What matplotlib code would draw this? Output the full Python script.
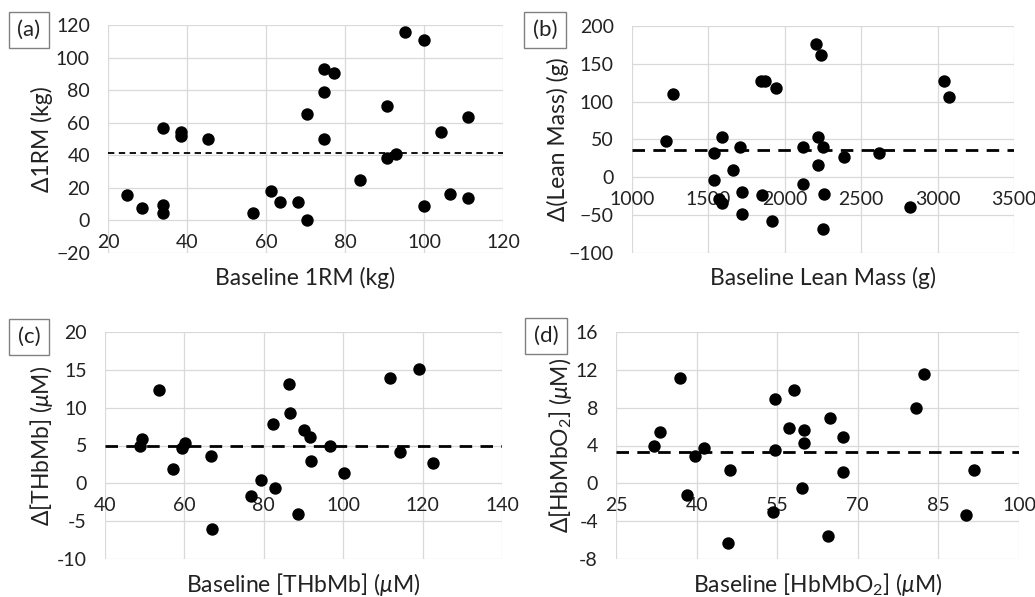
import numpy as np
import matplotlib
matplotlib.use("Agg")
from matplotlib import pyplot as plt

plt.rcParams['font.family'] = ['Lato', 'DejaVu Sans']
plt.rcParams['mathtext.fontset'] = 'custom'
plt.rcParams['mathtext.rm'] = 'Lato'
plt.rcParams['mathtext.it'] = 'Lato:italic'

# (a) 1RM
a_x = [24.9, 28.7, 33.9, 33.9, 33.9, 38.6, 38.6, 45.4, 56.8, 61.3, 63.5, 68.1, 70.4, 70.4, 74.8,
       74.8, 74.8, 77.1, 83.8, 90.6, 90.6, 92.9, 95.2, 99.9, 99.9, 104.3, 106.6, 111.1, 111.1]
a_y = [15.7, 7.6, 56.6, 9.2, 4.5, 54.6, 51.9, 49.9, 4.5, 18.0, 11.2, 11.2, 65.4, 0.0, 92.8,
       79.1, 49.9, 90.4, 24.9, 70.3, 38.2, 40.7, 115.5, 110.8, 9.0, 54.4, 16.0, 63.4, 13.5]
a_mean = 41.3

# (b) lean mass
b_x = [1222, 1268, 1538, 1538, 1571, 1588, 1588, 1663, 1704, 1719, 1721, 1846, 1872, 1852, 1942,
       1915, 2116, 2122, 2203, 2234, 2220, 2247, 2216, 2259, 2247, 2388, 2619, 2820, 3042, 3077]
b_y = [48.5, 110.1, 32.2, -3.5, -29.1, -33.5, 53.3, 9.3, 40.1, -19.8, -48.9, 127.3, 127.3, -22.9, 118.5,
       -57.7, -8.4, 40.1, 175.8, 161.7, 53.3, 40.1, 16.7, -21.6, -67.8, 26.4, 32.6, -39.6, 127.8, 106.6]
b_mean = 36.6

# (c) THbMb
c_x = [48.8, 49.2, 53.6, 57.2, 59.5, 60.1, 66.7, 67.0, 76.7, 79.3, 82.2, 82.8, 86.4, 86.7, 88.7,
       90.1, 91.6, 91.8, 96.8, 100.1, 111.7, 114.2, 119.1, 122.7]
c_y = [5.0, 5.9, 12.4, 1.9, 4.7, 5.3, 3.6, -6.0, -1.7, 0.5, 7.8, -0.6, 13.1, 9.3, -4.0,
       7.0, 6.1, 3.0, 5.0, 1.3, 13.9, 4.1, 15.1, 2.7]
c_mean = 4.9

# (d) HbMbO2
d_x = [32.1, 33.2, 37.0, 38.2, 39.7, 41.3, 46.2, 45.9, 54.5, 54.5, 54.3, 57.2, 58.1, 60.0, 60.0,
       59.6, 64.8, 64.4, 67.3, 67.3, 80.9, 82.3, 90.1, 91.7]
d_y = [4.0, 5.4, 11.1, -1.2, 2.9, 3.7, 1.4, -6.3, 8.9, 3.5, -3.0, 5.8, 9.9, 5.6, 4.3,
       -0.5, 6.9, -5.6, 4.9, 1.2, 8.0, 11.6, -3.3, 1.4]
d_mean = 3.35

panels = [
    dict(tag='(a)', x=a_x, y=a_y, m=a_mean,
         xt=[20, 40, 60, 80, 100, 120], yt=[-20, 0, 20, 40, 60, 80, 100, 120],
         ytl=['\u221220', '0', '20', '40', '60', '80', '100', '120'],
         xl='Baseline 1RM (kg)', yl='\u03941RM (kg)',
         pos=[108, 25, 503, 253], tagpos=(29, 30), ylx=42, dash=(0, (3.5, 2.5)), lw=1.3),
    dict(tag='(b)', x=b_x, y=b_y, m=b_mean,
         xt=[1000, 1500, 2000, 2500, 3000, 3500], yt=[-100, -50, 0, 50, 100, 150, 200],
         ytl=['\u2212100', '\u221250', '0', '50', '100', '150', '200'],
         xl='Baseline Lean Mass (g)', yl='\u0394(Lean Mass) (g)',
         pos=[632, 26, 1014, 253], tagpos=(545, 30), ylx=558, dash=(0, (4.5, 3)), lw=2.0),
    dict(tag='(c)', x=c_x, y=c_y, m=c_mean,
         xt=[40, 60, 80, 100, 120, 140], yt=[-10, -5, 0, 5, 10, 15, 20],
         ytl=['-10', '-5', '0', '5', '10', '15', '20'],
         xl='Baseline [THbMb] ($\\mu$M)', yl='\u0394[THbMb] ($\\mu$M)',
         pos=[105, 332, 502, 559], tagpos=(29, 337), ylx=42, dash=(0, (4.5, 3)), lw=2.0),
    dict(tag='(d)', x=d_x, y=d_y, m=d_mean,
         xt=[25, 40, 55, 70, 85, 100], yt=[-8, -4, 0, 4, 8, 12, 16],
         ytl=['-8', '-4', '0', '4', '8', '12', '16'],
         xl='Baseline [HbMbO$_2$] ($\\mu$M)', yl='\u0394[HbMbO$_2$] ($\\mu$M)',
         pos=[616, 332, 1019, 559], tagpos=(546, 336), ylx=560, dash=(0, (4.5, 3)), lw=2.0),
]

W, H = 1035, 597
fig = plt.figure(figsize=(W / 100, H / 100), dpi=100)
txt = '#222222'

for p in panels:
    l, t, r, b = p['pos']
    ax = fig.add_axes([l / W, 1 - b / H, (r - l) / W, (b - t) / H])
    ax.scatter(p['x'], p['y'], s=80, color='black', zorder=3, linewidths=0)
    ax.axhline(p['m'], color='black', lw=p['lw'], linestyle=p['dash'], zorder=2)
    ax.set_xlim(p['xt'][0], p['xt'][-1])
    ax.set_ylim(p['yt'][0], p['yt'][-1])
    ax.set_xticks(p['xt'])
    ax.set_yticks(p['yt'])
    ax.set_yticklabels(p['ytl'])
    for s in ax.spines.values():
        s.set_visible(False)
    ax.spines['bottom'].set_position(('data', 0))
    ax.grid(True, color='#d9d9d9', lw=0.9)
    ax.set_axisbelow(True)
    ax.tick_params(length=0, labelsize=14, colors=txt)
    ax.tick_params(axis='y', pad=13)
    ax.tick_params(axis='x', pad=10)
    ax.set_xlabel(p['xl'], fontsize=16.5, color=txt)
    ax.xaxis.set_label_coords(0.5, -25 / (b - t))
    ax.xaxis.label.set_va('center')
    ax.set_ylabel(p['yl'], fontsize=16.5, color=txt)
    ax.yaxis.set_label_coords((p['ylx'] - l) / (r - l), 0.5)
    ax.yaxis.label.set_va('center')
    fig.text(p['tagpos'][0] / W, 1 - p['tagpos'][1] / H, p['tag'], fontsize=16, color=txt,
             ha='center', va='center',
             bbox=dict(boxstyle='square,pad=0.38', fc='white', ec='#808080', lw=1))

fig.savefig('out.png', dpi=100)
